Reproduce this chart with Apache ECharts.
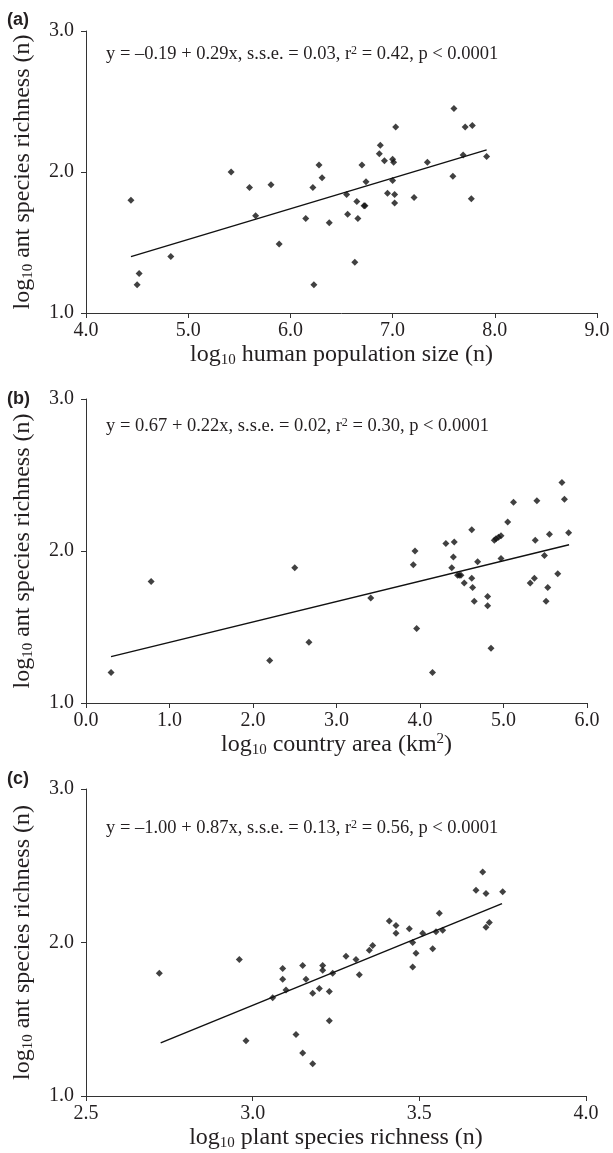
<!DOCTYPE html>
<html>
<head>
<meta charset="utf-8">
<script src="https://cdn.jsdelivr.net/npm/echarts@6/dist/echarts.min.js"></script>
<style>
  html, body { margin: 0; padding: 0; background: #fff; }
  #chart { width: 613px; height: 1153px; }
</style>
</head>
<body>
<div id="chart"></div>
<script>
// panel (a): human population
var popX = [4.44, 4.52, 4.50, 4.83, 5.42, 5.60, 5.81, 5.66, 5.89, 6.15, 6.22, 6.23, 6.28, 6.31, 6.38,
    6.55, 6.56, 6.63, 6.65, 6.66, 6.70, 6.72, 6.73, 6.74, 6.87, 6.88, 6.92, 6.95, 7.00, 7.01, 7.00,
    7.02, 7.02, 7.03, 7.21, 7.34, 7.59, 7.60, 7.69, 7.71, 7.77, 7.78, 7.92];
var popY = [1.80, 1.28, 1.20, 1.40, 2.00, 1.89, 1.91, 1.69, 1.49, 1.67, 1.89, 1.20, 2.05, 1.96, 1.64,
    1.84, 1.70, 1.36, 1.79, 1.67, 2.05, 1.76, 1.76, 1.93, 2.13, 2.19, 2.08, 1.85, 2.09, 2.07, 1.94,
    1.84, 1.78, 2.32, 1.82, 2.07, 1.97, 2.45, 2.12, 2.32, 1.81, 2.33, 2.11];
var popLineX = [4.44, 7.92];
var popLineY = [1.40, 2.157];

// panel (b): country area
var areaX = [0.30, 0.78, 2.20, 2.50, 2.67, 3.41, 3.92, 3.94, 3.96, 4.15, 4.31, 4.41, 4.40, 4.38, 4.45,
    4.47, 4.49, 4.53, 4.62, 4.62, 4.63, 4.65, 4.69, 4.81, 4.81, 4.85, 4.89, 4.91, 4.94, 4.97, 4.97,
    5.05, 5.12, 5.32, 5.37, 5.38, 5.40, 5.49, 5.51, 5.53, 5.55, 5.65, 5.70, 5.73, 5.78];
var areaY = [1.20, 1.80, 1.28, 1.89, 1.40, 1.69, 1.91, 2.00, 1.49, 1.20, 2.05, 2.06, 1.96, 1.89, 1.84,
    1.84, 1.84, 1.79, 2.14, 1.82, 1.76, 1.67, 1.93, 1.70, 1.64, 1.36, 2.07, 2.08, 2.09, 2.10, 1.95,
    2.19, 2.32, 1.79, 1.82, 2.07, 2.33, 1.97, 1.67, 1.76, 2.11, 1.85, 2.45, 2.34, 2.12];
var areaLineX = [0.30, 5.785];
var areaLineY = [1.305, 2.041];

// panel (c): plant species richness
var plantX = [2.72, 2.96, 2.98, 3.06, 3.09, 3.09, 3.10, 3.13, 3.15, 3.15, 3.16, 3.18, 3.18, 3.20, 3.21,
    3.21, 3.23, 3.23, 3.24, 3.28, 3.31, 3.32, 3.35, 3.36, 3.41, 3.43, 3.43, 3.47, 3.48, 3.48, 3.49,
    3.51, 3.54, 3.55, 3.56, 3.57, 3.67, 3.69, 3.70, 3.70, 3.71, 3.75];
var plantY = [1.80, 1.89, 1.36, 1.64, 1.83, 1.76, 1.69, 1.40, 1.85, 1.28, 1.76, 1.67, 1.21, 1.70, 1.82,
    1.85, 1.49, 1.68, 1.80, 1.91, 1.89, 1.79, 1.95, 1.98, 2.14, 2.11, 2.06, 2.09, 2.00, 1.84, 1.93,
    2.06, 1.96, 2.07, 2.19, 2.08, 2.34, 2.46, 2.32, 2.10, 2.13, 2.33];
var plantLineX = [2.724, 3.748];
var plantLineY = [1.346, 2.253];

var xTitles = ['{t|log}{s|10}{t| human population size (n)}',
    '{t|log}{s|10}{t| country area (km}{p|2}{t|)}',
    '{t|log}{s|10}{t| plant species richness (n)}'];
var yTitle = '{t|log}{s|10}{t| ant species richness (n)}';
var equations = ['{e|y = –0.19 + 0.29x, s.s.e. = 0.03, r}{p|2}{e| = 0.42, p < 0.0001}',
    '{e|y = 0.67 + 0.22x, s.s.e. = 0.02, r}{p|2}{e| = 0.30, p < 0.0001}',
    '{e|y = –1.00 + 0.87x, s.s.e. = 0.13, r}{p|2}{e| = 0.56, p < 0.0001}'];
var panelLetters = ['(a)', '(b)', '(c)'];
var xRanges = [[4, 9, 1], [0, 6, 1], [2.5, 4, 0.5]];

function pairs(xs, ys) {
    var out = [];
    for (var i = 0; i < xs.length; i++) {
        out.push([xs[i], ys[i]]);
    }
    return out;
}

var serif = 'Liberation Serif';
var textColor = '#231f20';
var nameRich = {
    t: { fontFamily: serif, fontSize: 24, color: textColor },
    s: { fontFamily: serif, fontSize: 15, color: textColor, verticalAlign: 'bottom', padding: [11, 0, 0, 0] },
    p: { fontFamily: serif, fontSize: 15, color: textColor, verticalAlign: 'top', padding: [0, 0, 8, 0] }
};
var eqRich = {
    e: { fontFamily: serif, fontSize: 18.5, color: textColor },
    p: { fontFamily: serif, fontSize: 12, color: textColor, verticalAlign: 'top', padding: [0, 0, 7, 0] }
};

var grids = [
    { left: 86, top: 31, width: 511, height: 282 },
    { left: 86, top: 399, width: 501, height: 304 },
    { left: 86, top: 789, width: 500, height: 307 }
];

var xAxes = [];
var yAxes = [];
for (var g = 0; g < 3; g++) {
    xAxes.push({
        type: 'value',
        gridIndex: g,
        min: xRanges[g][0],
        max: xRanges[g][1],
        interval: xRanges[g][2],
        name: xTitles[g],
        nameLocation: 'middle',
        nameGap: 29,
        nameTextStyle: { rich: nameRich },
        axisLine: { show: true, onZero: false, lineStyle: { color: '#333', width: 1 } },
        axisTick: { show: true, inside: false, length: 5, lineStyle: { color: '#333' } },
        axisLabel: {
            margin: 8,
            fontFamily: serif,
            fontSize: 20,
            color: textColor,
            formatter: function (v) { return v.toFixed(1); }
        },
        splitLine: { show: false }
    });
    yAxes.push({
        type: 'value',
        gridIndex: g,
        min: 1,
        max: 3,
        interval: 1,
        name: yTitle,
        nameLocation: 'middle',
        nameGap: 50,
        nameTextStyle: { rich: nameRich },
        axisLine: { show: true, onZero: false, lineStyle: { color: '#333', width: 1 } },
        axisTick: { show: true, inside: false, length: 5, lineStyle: { color: '#333' } },
        axisLabel: {
            margin: 12,
            fontFamily: serif,
            fontSize: 20,
            color: textColor,
            formatter: function (v) { return v.toFixed(1); }
        },
        splitLine: { show: false }
    });
}

var pointSets = [pairs(popX, popY), pairs(areaX, areaY), pairs(plantX, plantY)];
var lineSets = [pairs(popLineX, popLineY), pairs(areaLineX, areaLineY), pairs(plantLineX, plantLineY)];

var series = [];
for (var k = 0; k < 3; k++) {
    series.push({
        type: 'scatter',
        xAxisIndex: k,
        yAxisIndex: k,
        symbol: 'diamond',
        symbolSize: 7,
        itemStyle: { color: '#111' },
        data: pointSets[k]
    });
    series.push({
        type: 'line',
        xAxisIndex: k,
        yAxisIndex: k,
        showSymbol: false,
        symbol: 'none',
        lineStyle: { color: '#111', width: 1.5 },
        data: lineSets[k]
    });
}

var eqTops = [45, 417, 819];
var letterTops = [11, 390, 770];
var graphics = [];
for (var j = 0; j < 3; j++) {
    graphics.push({
        type: 'text',
        left: 106,
        top: eqTops[j],
        style: { text: equations[j], rich: eqRich, fill: textColor }
    });
    graphics.push({
        type: 'text',
        left: 7,
        top: letterTops[j],
        style: { text: panelLetters[j], font: 'bold 18px "Liberation Sans"', fill: textColor }
    });
}

var myChart = echarts.init(document.getElementById('chart'), null, { renderer: 'canvas' });
var option = {
    animation: false,
    backgroundColor: '#fff',
    grid: grids,
    xAxis: xAxes,
    yAxis: yAxes,
    series: series,
    graphic: graphics
};
myChart.setOption(option, true);
</script>
</body>
</html>
